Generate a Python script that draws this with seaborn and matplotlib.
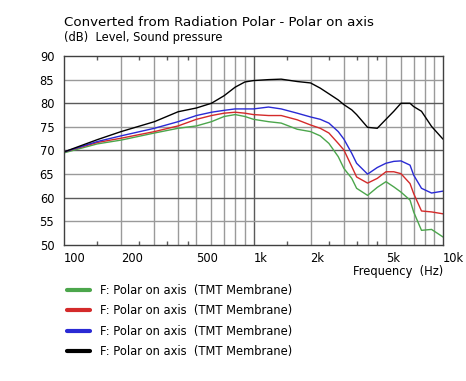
import numpy as np
import pandas as pd
import matplotlib
matplotlib.use("Agg")
import matplotlib.pyplot as plt
import seaborn as sns

# frequency points (Hz) and levels (dB)
freq = [100, 150, 200, 300, 400, 500, 600, 700, 800, 900, 1000, 1200, 1400, 1700,
        2000, 2250, 2500, 2800, 3000, 3300, 3500, 4000, 4500, 5000, 5500, 6000,
        6700, 7000, 7700, 8700, 10000]

level_green = [69.5, 71.4, 72.2, 73.7, 74.7, 75.2, 76.1, 77.2, 77.6, 77.2, 76.6, 76.1, 75.8, 74.5,
               74.0, 73.1, 71.5, 68.7, 66.2, 64.1, 62.0, 60.5, 62.2, 63.4, 62.3, 61.2,
               59.5, 57.0, 53.1, 53.3, 51.7]
level_red = [69.7, 71.7, 72.6, 74.0, 75.2, 76.6, 77.4, 77.9, 78.1, 77.9, 77.6, 77.4, 77.4, 76.5,
             75.4, 74.7, 73.7, 71.5, 70.1, 66.6, 64.4, 63.1, 64.1, 65.5, 65.5, 65.1,
             63.0, 60.9, 57.2, 57.0, 56.6]
level_blue = [69.7, 71.9, 73.1, 74.7, 76.1, 77.4, 78.1, 78.5, 78.8, 78.8, 78.8, 79.2, 78.8, 77.9,
              77.1, 76.6, 75.8, 74.0, 72.4, 69.4, 67.3, 65.0, 66.4, 67.3, 67.7, 67.8,
              66.9, 64.8, 62.0, 61.0, 61.4]
level_black = [69.7, 72.3, 74.0, 76.1, 78.2, 79.0, 80.0, 81.6, 83.4, 84.5, 84.8, 85.0, 85.1, 84.6,
               84.3, 83.2, 82.0, 80.7, 79.7, 78.6, 77.6, 74.9, 74.7, 76.6, 78.3, 80.0,
               80.0, 79.3, 78.3, 75.1, 72.4]

series_keys = ["green", "red", "blue", "black"]
series_label = "F: Polar on axis  (TMT Membrane)"
colors = {"green": "#4ca64c", "red": "#d42a2a", "blue": "#2a2ad4", "black": "#000000"}

y_ticks = [50, 55, 60, 65, 70, 75, 80, 85, 90]
x_label_ticks = [100, 200, 500, 1000, 2000, 5000, 10000]
x_label_text = ["100", "200", "500", "1k", "2k", "5k", "10k"]
grid_x = [200, 300, 400, 500, 600, 700, 800, 900, 1000,
          2000, 3000, 4000, 5000, 6000, 7000, 8000, 9000]
minor_x = [150, 250, 350, 450, 1500, 2500, 3500, 4500]

df = pd.concat([
    pd.DataFrame({"freq": freq, "level": lv, "series": k})
    for k, lv in zip(series_keys, [level_green, level_red, level_blue, level_black])
])

sns.set_style("white")
plt.rcParams["font.family"] = ["DejaVu Sans"]
plt.rcParams["font.size"] = 8.3
plt.rcParams["text.color"] = "black"
plt.rcParams["xtick.color"] = "black"
plt.rcParams["ytick.color"] = "black"

fig = plt.figure(figsize=(4.66, 3.81), dpi=100)
ax = fig.add_axes([64 / 466, 1 - 245 / 381, 379 / 466, 189 / 381])

# grid first so curves sit on top
for f in grid_x:
    ax.axvline(f, color="#5a5a5a" if f == 1000 else "#9a9a9a", lw=1, zorder=0)
for v in y_ticks[1:-1]:
    ax.axhline(v, color="#5a5a5a" if v % 10 == 0 else "#9a9a9a", lw=1, zorder=0)

sns.lineplot(data=df, x="freq", y="level", hue="series", hue_order=series_keys,
             palette=colors, lw=1, ax=ax, estimator=None, sort=True)

ax.set_xscale("log")
ax.set_xlim(100, 10000)
ax.set_ylim(50, 90)
ax.set_xticks(x_label_ticks)
ax.set_xticklabels(x_label_text)
plt.setp(ax.get_xticklabels(), ha="left")
ax.set_xticks(minor_x, minor=True)
ax.set_xticklabels([], minor=True)
ax.set_yticks(y_ticks)
ax.tick_params(axis="both", which="major", length=0)
ax.tick_params(axis="x", which="major", pad=5)
ax.tick_params(axis="y", which="major", pad=7)
ax.tick_params(axis="x", which="minor", direction="in", length=3, top=True,
               bottom=True, color="#5a5a5a", width=1)
ax.set_xlabel("")
ax.set_ylabel("")
for s in ax.spines.values():
    s.set_color("#404040")
    s.set_linewidth(1)

fig.text(443 / 466, 1 - 275 / 381, "Frequency  (Hz)", ha="right", va="baseline")
fig.text(64 / 466, 1 - 26.5 / 381, "Converted from Radiation Polar - Polar on axis",
         ha="left", va="baseline", fontsize=9.6)
fig.text(64 / 466, 1 - 40.5 / 381, "(dB)  Level, Sound pressure", ha="left", va="baseline")

handles, _ = ax.get_legend_handles_labels()
ax.get_legend().remove()
leg = fig.legend(handles, [series_label] * 4, loc="upper left",
                 bbox_to_anchor=(67 / 466, 1 - 284 / 381), frameon=False,
                 borderpad=0, borderaxespad=0, handlelength=2.0,
                 handletextpad=0.85, labelspacing=0.64)
for ln in leg.get_lines():
    ln.set_linewidth(3)

fig.savefig("out.png", dpi=100)
